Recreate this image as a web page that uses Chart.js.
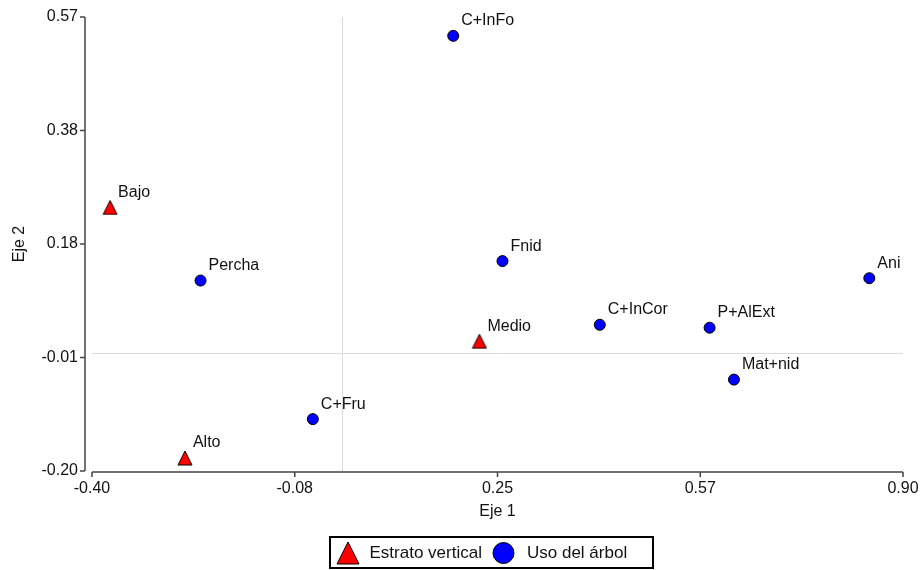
<!DOCTYPE html>
<html>
<head>
<meta charset="utf-8">
<script src="https://cdn.jsdelivr.net/npm/chart.js@4.4.1/dist/chart.umd.min.js"></script>
<style>
  html, body { margin: 0; padding: 0; background: #fff; }
  #wrap { width: 920px; height: 570px; position: relative; }
</style>
</head>
<body>
<div id="wrap"><canvas id="biplot"></canvas></div>
<script>
// ======================
// Biplot Eje 1 / Eje 2
// ======================
const FUENTE = '"Liberation Sans", Arial, sans-serif';

// Estrato vertical (triangulos)
const estratoNombres = ['Bajo', 'Medio', 'Alto'];
const estratoEje1 = [-0.371, 0.221, -0.251];
const estratoEje2 = [0.247, 0.020, -0.178];

// Uso del arbol (circulos)
const usoNombres = ['C+InFo', 'Fnid', 'Percha', 'Ani', 'C+InCor', 'P+AlExt', 'Mat+nid', 'C+Fru'];
const usoEje1 = [0.179, 0.258, -0.226, 0.846, 0.414, 0.590, 0.629, -0.046];
const usoEje2 = [0.538, 0.156, 0.123, 0.127, 0.048, 0.043, -0.045, -0.112];

// Ticks de los ejes
const ticksEje1 = [-0.40, -0.075, 0.25, 0.575, 0.90];
const etiquetasEje1 = ['-0.40', '-0.08', '0.25', '0.57', '0.90'];
const ticksEje2 = [-0.20, -0.0075, 0.185, 0.3775, 0.57];
const etiquetasEje2 = ['-0.20', '-0.01', '0.18', '0.38', '0.57'];

// triangulo como imagen (mas alto que el equilatero)
function triangulo(w, h, color) {
  const c = document.createElement('canvas');
  c.width = w + 2;
  c.height = h + 2;
  const g = c.getContext('2d');
  g.beginPath();
  g.moveTo(c.width / 2, 1);
  g.lineTo(c.width - 1, c.height - 1);
  g.lineTo(1, c.height - 1);
  g.closePath();
  g.fillStyle = color;
  g.fill();
  g.strokeStyle = '#000';
  g.lineWidth = 1;
  g.stroke();
  return c;
}

const toPts = (xs, ys) => xs.map((v, i) => ({ x: v, y: ys[i] }));

// lineas del cero y ejes separados
const ejes = {
  id: 'ejes',
  beforeDatasetsDraw(chart) {
    const { ctx, chartArea: a, scales: { x, y } } = chart;
    ctx.save();
    ctx.strokeStyle = '#dadada';
    ctx.lineWidth = 1;
    const x0 = Math.round(x.getPixelForValue(0)) + 0.5;
    const y0 = Math.round(y.getPixelForValue(0)) + 0.5;
    ctx.beginPath();
    ctx.moveTo(x0, a.top); ctx.lineTo(x0, a.bottom);
    ctx.moveTo(a.left, y0); ctx.lineTo(a.right, y0);
    ctx.stroke();
    ctx.restore();
  },
  afterDraw(chart) {
    const { ctx, chartArea: a, scales: { x, y } } = chart;
    ctx.save();
    ctx.strokeStyle = '#444';
    ctx.lineWidth = 1.5;
    ctx.beginPath();
    const xe = a.left - 7;
    ctx.moveTo(xe, a.top); ctx.lineTo(xe, a.bottom);
    y.ticks.forEach(t => {
      const p = y.getPixelForValue(t.value);
      ctx.moveTo(xe - 5, p); ctx.lineTo(xe, p);
    });
    const ye = a.bottom + 1;
    ctx.moveTo(a.left, ye); ctx.lineTo(a.right, ye);
    x.ticks.forEach(t => {
      const p = x.getPixelForValue(t.value);
      ctx.moveTo(p, ye); ctx.lineTo(p, ye + 5);
    });
    ctx.stroke();
    ctx.restore();
  }
};

// nombres junto a cada punto
const etiquetasPuntos = {
  id: 'etiquetasPuntos',
  afterDatasetsDraw(chart) {
    const ctx = chart.ctx;
    ctx.save();
    ctx.font = '16px ' + FUENTE;
    ctx.fillStyle = '#111';
    ctx.textAlign = 'left';
    ctx.textBaseline = 'middle';
    chart.data.datasets.forEach((ds, i) => {
      chart.getDatasetMeta(i).data.forEach((pt, j) => {
        ctx.fillText(ds.nombres[j], pt.x + 8, pt.y - 15);
      });
    });
    ctx.restore();
  }
};

// leyenda con recuadro abajo
const leyenda = {
  id: 'leyenda',
  afterDraw(chart) {
    const ctx = chart.ctx;
    const ds = chart.data.datasets;
    const cy = 553;
    ctx.save();
    ctx.strokeStyle = '#000';
    ctx.lineWidth = 2;
    ctx.strokeRect(330, 537, 323, 31);

    const tri = triangulo(22, 22, ds[0].backgroundColor);
    ctx.drawImage(tri, 348 - tri.width / 2, cy - tri.height / 2);

    ctx.beginPath();
    ctx.arc(503.5, cy, 10.5, 0, Math.PI * 2);
    ctx.fillStyle = ds[1].backgroundColor;
    ctx.fill();
    ctx.lineWidth = 1;
    ctx.stroke();

    ctx.font = '17px ' + FUENTE;
    ctx.fillStyle = '#111';
    ctx.textBaseline = 'middle';
    ctx.fillText(ds[0].label, 369.5, cy);
    ctx.fillText(ds[1].label, 527, cy);
    ctx.restore();
  }
};

const ctx = document.getElementById('biplot').getContext('2d');

new Chart(ctx, {
  type: 'scatter',
  data: {
    datasets: [
      {
        label: 'Estrato vertical',
        nombres: estratoNombres,
        data: toPts(estratoEje1, estratoEje2),
        pointStyle: triangulo(14, 14, '#ff0000'),
        backgroundColor: '#ff0000',
        borderColor: '#000'
      },
      {
        label: 'Uso del árbol',
        nombres: usoNombres,
        data: toPts(usoEje1, usoEje2),
        pointStyle: 'circle',
        pointRadius: 5.5,
        borderWidth: 1,
        backgroundColor: '#0000ff',
        borderColor: '#000'
      }
    ]
  },
  options: {
    responsive: true,
    maintainAspectRatio: false,
    animation: false,
    layout: { padding: { top: 17, right: 17, left: 0, bottom: 49 } },
    plugins: {
      legend: { display: false },
      tooltip: { enabled: false }
    },
    scales: {
      x: {
        type: 'linear',
        min: -0.40,
        max: 0.90,
        afterBuildTicks: s => { s.ticks = ticksEje1.map(v => ({ value: v })); },
        afterFit: s => { s.height = 50; s.paddingLeft = 0; s.paddingRight = 0; },
        grid: { display: false, drawTicks: false },
        border: { display: false },
        ticks: {
          padding: 8,
          color: '#111',
          font: { family: FUENTE, size: 16 },
          maxRotation: 0,
          callback: (v, i) => etiquetasEje1[i]
        },
        title: {
          display: true,
          text: 'Eje 1',
          color: '#111',
          font: { family: FUENTE, size: 16 },
          padding: { top: 0, bottom: 0 }
        }
      },
      y: {
        type: 'linear',
        min: -0.20,
        max: 0.57,
        afterBuildTicks: s => { s.ticks = ticksEje2.map(v => ({ value: v })); },
        afterFit: s => { s.width = 92; s.paddingTop = 0; s.paddingBottom = 0; },
        grid: { display: false, drawTicks: false },
        border: { display: false },
        ticks: {
          padding: 14,
          color: '#111',
          font: { family: FUENTE, size: 16 },
          callback: (v, i) => etiquetasEje2[i]
        },
        title: {
          display: true,
          text: 'Eje 2',
          color: '#111',
          font: { family: FUENTE, size: 16 },
          padding: { top: 10, bottom: 0 }
        }
      }
    }
  },
  plugins: [ejes, etiquetasPuntos, leyenda]
});
</script>
</body>
</html>
